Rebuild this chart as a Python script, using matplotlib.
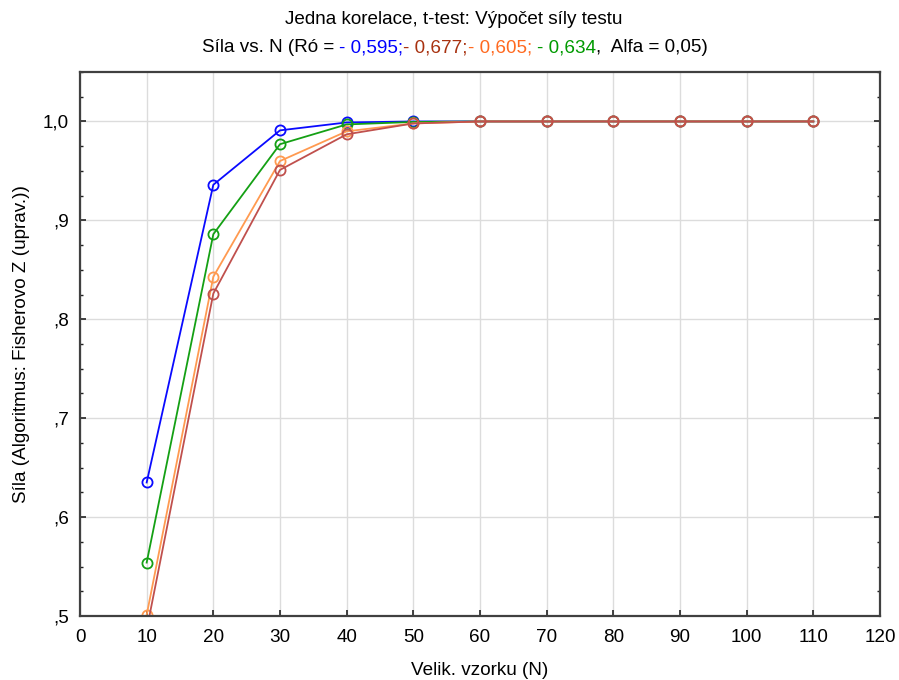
import matplotlib
matplotlib.use('Agg')
import matplotlib.pyplot as plt
from matplotlib.ticker import MultipleLocator, FuncFormatter

plt.rcParams['font.family'] = ['Liberation Sans', 'DejaVu Sans']
plt.rcParams['font.size'] = 13.6

# data
n_values = [10, 20, 30, 40, 50, 60, 70, 80, 90, 100, 110]
power_0595 = [0.635, 0.936, 0.991, 0.999, 1.0, 1.0, 1.0, 1.0, 1.0, 1.0, 1.0]
power_0634 = [0.554, 0.886, 0.977, 0.997, 0.9995, 1.0, 1.0, 1.0, 1.0, 1.0, 1.0]
power_0605 = [0.501, 0.843, 0.960, 0.990, 0.998, 1.0, 1.0, 1.0, 1.0, 1.0, 1.0]
power_0677 = [0.486, 0.826, 0.951, 0.987, 0.998, 1.0, 1.0, 1.0, 1.0, 1.0, 1.0]

fig = plt.figure(figsize=(8.99, 6.80), dpi=100)
ax = fig.add_axes([80 / 899, 1 - 616 / 680, 800 / 899, 544 / 680])

series = [
    (power_0595, '#0a0aff'),
    (power_0634, '#14a014'),
    (power_0605, '#ff9a50'),
    (power_0677, '#c0504d'),
]
for vals, col in series:
    ax.plot(n_values, vals, color=col, lw=1.3, marker='o', ms=7.3,
            mfc='none', mec=col, mew=1.3)

ax.set_xlim(0, 120)
ax.set_ylim(0.5, 1.05)
ax.xaxis.set_major_locator(MultipleLocator(10))
ax.yaxis.set_major_locator(MultipleLocator(0.1))
ax.yaxis.set_minor_locator(MultipleLocator(0.025))


def fmt_y(v, pos):
    s = f'{v:.1f}'.replace('.', ',')
    if s.startswith('0'):
        s = s[1:]
    return s


ax.yaxis.set_major_formatter(FuncFormatter(fmt_y))
ax.tick_params(axis='both', which='both', direction='in', right=True, colors='#222222',
               labelcolor='black', labelsize=13.6)
ax.tick_params(axis='both', which='major', length=4, width=1.2)
ax.tick_params(axis='y', which='major', pad=8)
ax.tick_params(axis='x', which='major', pad=9)
ax.tick_params(axis='y', which='minor', length=2.5, width=1.0)
ax.grid(True, which='major', color='#dcdcdc', lw=1.0)
ax.set_axisbelow(True)
for sp in ax.spines.values():
    sp.set_color('#404040')
    sp.set_linewidth(1.6)

ax.set_xlabel('Velik. vzorku (N)', fontsize=13.6, labelpad=12)
ax.set_ylabel('Síla (Algoritmus: Fisherovo Z (uprav.))', fontsize=13.6, labelpad=9)

fig.text(454 / 899, 1 - 19 / 680, 'Jedna korelace, t-test: Výpočet síly testu',
         ha='center', va='center', fontsize=13.6)

# second title line with coloured parts
parts = [
    ('Síla vs. N (Ró = ', 'black'),
    ('- 0,595;', '#0000ff'),
    ('- 0,677;', '#a83210'),
    ('- 0,605; ', '#ff6a20'),
    ('- 0,634', '#009a00'),
    (',  Alfa = 0,05)', 'black'),
]
y2 = 1 - 48 / 680
texts = [fig.text(0, y2, s, color=c, ha='left', va='center', fontsize=13.6) for s, c in parts]
fig.canvas.draw()
r = fig.canvas.get_renderer()
widths = [t.get_window_extent(r).width for t in texts]
x = 455 - sum(widths) / 2
for t, w in zip(texts, widths):
    t.set_x(x / 899)
    x += w

fig.savefig('out.png', dpi=100)
